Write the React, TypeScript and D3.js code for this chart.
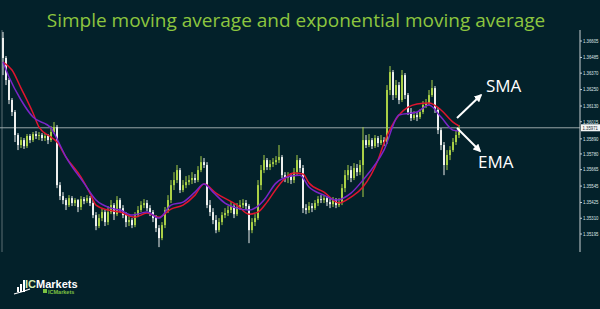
import React from "react";
import * as d3 from "d3";

const W = 600;
const H = 309;

const title = "Simple moving average and exponential moving average";
const tickLabels = ["1.36605", "1.36485", "1.36370", "1.36250", "1.36130", "1.36015", "1.35890", "1.35780", "1.35665", "1.35545", "1.35425", "1.35310", "1.35195"];
const currentPrice = 1.35971;
const currentLabel = "1.35971";

const firstOpen = 1.36627;
const closes = [
  1.36481, 1.3632, 1.36174, 1.36086, 1.35918, 1.35845, 1.35881, 1.35837, 1.35911, 1.35881,
  1.35925, 1.35911, 1.35918, 1.35896, 1.35911, 1.35881, 1.3594, 1.35976, 1.35552, 1.35472,
  1.35443, 1.35406, 1.35457, 1.35421, 1.35443, 1.35392, 1.3545, 1.35435, 1.35457, 1.35421,
  1.35333, 1.35253, 1.35311, 1.35355, 1.35282, 1.35355, 1.35406, 1.3534, 1.35443, 1.35384,
  1.35333, 1.35282, 1.35297, 1.3526, 1.35333, 1.3537, 1.35406, 1.35421, 1.35384, 1.35355,
  1.35311, 1.35238, 1.35165, 1.3526, 1.3537, 1.35443, 1.35552, 1.35589, 1.35662, 1.35516,
  1.35552, 1.35574, 1.35589, 1.35604, 1.35589, 1.35662, 1.3572, 1.35699, 1.35406, 1.35355,
  1.35297, 1.35223, 1.35282, 1.35333, 1.35348, 1.3537, 1.35399, 1.3534, 1.35392, 1.35406,
  1.35421, 1.35399, 1.35223, 1.35282, 1.35311, 1.35552, 1.35662, 1.35735, 1.35684, 1.35706,
  1.3572, 1.35735, 1.35757, 1.35625, 1.35604, 1.35618, 1.35589, 1.35647, 1.35735, 1.35677,
  1.35384, 1.3537, 1.35399, 1.35384, 1.35421, 1.3545, 1.35443, 1.35457, 1.35428, 1.35413,
  1.35443, 1.35406, 1.35428, 1.3553, 1.35625, 1.35662, 1.35604, 1.35677, 1.35647, 1.35699,
  1.35881, 1.35845, 1.35881, 1.35837, 1.35896, 1.35859, 1.35881, 1.35867, 1.36247, 1.36378,
  1.3621, 1.36283, 1.36174, 1.36356, 1.3621, 1.36086, 1.36042, 1.36064, 1.36049, 1.36086,
  1.36137, 1.36152, 1.3621, 1.36261, 1.36101, 1.35954, 1.35845, 1.35699, 1.35772, 1.35808,
  1.35867, 1.35918, 1.35969,
];
const highs = [
  1.36671, 1.36495, 1.36335, 1.36188, 1.36101, 1.35932, 1.35903, 1.35896, 1.35925, 1.35925,
  1.3594, 1.35947, 1.3594, 1.35932, 1.35932, 1.35925, 1.35984, 1.36013, 1.35991, 1.35574,
  1.35501, 1.35457, 1.35479, 1.35472, 1.35457, 1.3545, 1.35472, 1.35465, 1.35479, 1.35472,
  1.35443, 1.35355, 1.3534, 1.35384, 1.3537, 1.35399, 1.35443, 1.35421, 1.35472, 1.35457,
  1.35406, 1.35355, 1.35326, 1.35311, 1.35355, 1.35399, 1.35435, 1.3545, 1.35443, 1.35406,
  1.3537, 1.35333, 1.3526, 1.35282, 1.35392, 1.35479, 1.35589, 1.35647, 1.35699, 1.35677,
  1.35589, 1.35618, 1.35625, 1.35647, 1.35633, 1.35691, 1.35764, 1.3575, 1.3572, 1.35443,
  1.35384, 1.35333, 1.35311, 1.35355, 1.35384, 1.35399, 1.35428, 1.35413, 1.35421, 1.35443,
  1.3545, 1.35443, 1.35413, 1.35311, 1.3534, 1.35589, 1.35699, 1.35772, 1.3575, 1.35735,
  1.3575, 1.35764, 1.35845, 1.35772, 1.35647, 1.35647, 1.3564, 1.35677, 1.35772, 1.3575,
  1.35699, 1.35413, 1.35428, 1.35421, 1.35443, 1.35472, 1.35479, 1.35479, 1.35472, 1.3545,
  1.35465, 1.35457, 1.35457, 1.3556, 1.35662, 1.35699, 1.35691, 1.35713, 1.35706, 1.35735,
  1.35976, 1.35918, 1.35925, 1.35896, 1.35918, 1.35911, 1.35918, 1.35903, 1.36283, 1.36422,
  1.36393, 1.3632, 1.36305, 1.36393, 1.36371, 1.36225, 1.36115, 1.36093, 1.36086, 1.36108,
  1.36166, 1.36181, 1.36247, 1.3632, 1.36276, 1.36123, 1.35969, 1.35867, 1.35808, 1.35837,
  1.35896, 1.35954, 1.35991,
];
const lows = [
  1.36356, 1.36283, 1.36144, 1.36057, 1.35867, 1.35808, 1.35823, 1.35816, 1.35823, 1.35859,
  1.35867, 1.35889, 1.35881, 1.35874, 1.35874, 1.35852, 1.35867, 1.35925, 1.3553, 1.35443,
  1.35413, 1.3537, 1.35392, 1.35399, 1.35399, 1.35355, 1.3537, 1.35413, 1.35421, 1.35399,
  1.35311, 1.35223, 1.35238, 1.35289, 1.35253, 1.3526, 1.3534, 1.35297, 1.35326, 1.35355,
  1.35311, 1.35245, 1.35253, 1.35238, 1.35245, 1.35318, 1.35355, 1.35384, 1.35362, 1.35326,
  1.35282, 1.35209, 1.35099, 1.3515, 1.35238, 1.35348, 1.35421, 1.35516, 1.35567, 1.35494,
  1.35501, 1.3553, 1.35552, 1.3556, 1.35567, 1.35574, 1.35647, 1.35677, 1.35384, 1.35326,
  1.35267, 1.35201, 1.35209, 1.3526, 1.35311, 1.35326, 1.35348, 1.35311, 1.35326, 1.3537,
  1.35384, 1.3537, 1.35128, 1.35201, 1.35253, 1.35297, 1.35516, 1.3564, 1.35662, 1.35662,
  1.35684, 1.35699, 1.35713, 1.35604, 1.35574, 1.35567, 1.3556, 1.35567, 1.35625, 1.35647,
  1.35348, 1.3534, 1.35348, 1.35355, 1.3537, 1.35399, 1.35421, 1.35421, 1.35399, 1.35384,
  1.35392, 1.35384, 1.35392, 1.35406, 1.35501, 1.35589, 1.35574, 1.35589, 1.35618, 1.35625,
  1.35465, 1.35823, 1.3583, 1.35816, 1.35823, 1.3583, 1.35845, 1.35837, 1.35852, 1.3621,
  1.36174, 1.36188, 1.36144, 1.36159, 1.36181, 1.36064, 1.3602, 1.36028, 1.3602, 1.36035,
  1.36071, 1.36115, 1.36137, 1.36196, 1.36079, 1.35925, 1.35808, 1.35625, 1.35662, 1.35735,
  1.35794, 1.35845, 1.35896,
];

// moving averages: [candle index, value]
const smaIndex = [0, 3, 6, 10, 12, 16, 18, 21, 26, 29, 31, 35, 39, 44, 48, 52, 56, 60, 64, 67, 71, 78, 82, 85, 88, 92, 97, 100, 102, 107, 112, 116, 120, 125, 127, 132, 138, 142, 146, 150, 152];
const smaValues = [1.36451, 1.36393, 1.36261, 1.36079, 1.35976, 1.35903, 1.35867, 1.35757, 1.35611, 1.35494, 1.35406, 1.3537, 1.35355, 1.35318, 1.35348, 1.35318, 1.35377, 1.35406, 1.35479, 1.3556, 1.35494, 1.35406, 1.3534, 1.35355, 1.35428, 1.35552, 1.3564, 1.35633, 1.35567, 1.35501, 1.35421, 1.35465, 1.35538, 1.35735, 1.35859, 1.36064, 1.36144, 1.36152, 1.36101, 1.36013, 1.35984];
const emaIndex = [0, 2, 6, 10, 16, 17, 21, 27, 31, 36, 39, 43, 48, 52, 56, 60, 64, 67, 70, 74, 78, 82, 85, 87, 91, 96, 99, 102, 107, 111, 116, 120, 127, 132, 138, 142, 146, 150, 152];
const emaValues = [1.36451, 1.36342, 1.36174, 1.36049, 1.35969, 1.35932, 1.35757, 1.35567, 1.35443, 1.35384, 1.3537, 1.35333, 1.35355, 1.35311, 1.35406, 1.35428, 1.35501, 1.3556, 1.35501, 1.35421, 1.35384, 1.3537, 1.35399, 1.35443, 1.35567, 1.35618, 1.35625, 1.35538, 1.35479, 1.35443, 1.35494, 1.35589, 1.35808, 1.36064, 1.36086, 1.36137, 1.36049, 1.35954, 1.35947];

const BG = "#03212a";
const BULL = "#a9d046";
const BEAR = "#eef0ee";
const SMA_COLOR = "#e0152f";
const EMA_COLOR = "#7a25c9";

export default function App() {
  const opens = [firstOpen, ...closes.slice(0, -1)];
  const x = d3.scaleLinear().domain([0, closes.length - 1]).range([3, 459]);
  const y = d3.scaleLinear().domain([1.35195, 1.36605]).range([234, 41]);
  const bodyW = 2;

  const smaPts = smaIndex.map((i, k) => [i, smaValues[k]] as [number, number]);
  const emaPts = emaIndex.map((i, k) => [i, emaValues[k]] as [number, number]);
  const line = d3
    .line<[number, number]>()
    .x((d) => x(d[0]))
    .y((d) => y(d[1]))
    .curve(d3.curveMonotoneX);

  const axisX = 580;

  return (
    <svg
      width={W}
      height={H}
      style={{ position: "absolute", left: 0, top: 0, display: "block", background: BG }}
    >
      <rect x={0} y={0} width={W} height={H} fill={BG} />
      <text
        x={296}
        y={27}
        textAnchor="middle"
        fill="#8dc63f"
        fontFamily="'Open Sans', sans-serif"
        fontSize={19}
      >
        {title}
      </text>

      {/* left border line */}
      <line x1={2} x2={2} y1={30} y2={252} stroke="#5d6e72" strokeWidth={1} />

      {/* current price line */}
      <line x1={0} x2={axisX} y1={y(currentPrice)} y2={y(currentPrice)} stroke="#9aa6a9" strokeWidth={1} />

      {/* candles */}
      {closes.map((c, i) => {
        const o = opens[i];
        const bull = c >= o;
        const col = bull ? BULL : BEAR;
        const cx = x(i);
        const top = y(Math.max(o, c));
        const bot = y(Math.min(o, c));
        return (
          <g key={i}>
            <line x1={cx} x2={cx} y1={y(highs[i])} y2={y(lows[i])} stroke={col} strokeWidth={1} />
            <rect x={cx - bodyW / 2} y={top} width={bodyW} height={Math.max(1, bot - top)} fill={col} />
          </g>
        );
      })}

      {/* moving averages */}
      <path d={line(smaPts) || ""} fill="none" stroke={SMA_COLOR} strokeWidth={1.5} />
      <path d={line(emaPts) || ""} fill="none" stroke={EMA_COLOR} strokeWidth={1.5} />

      {/* right axis */}
      <line x1={axisX} x2={axisX} y1={30} y2={252} stroke="#c9d0d2" strokeWidth={1} />
      {tickLabels.map((t) => {
        const ty = y(+t);
        return (
          <g key={t}>
            <line x1={axisX} x2={axisX + 2} y1={ty} y2={ty} stroke="#c9d0d2" strokeWidth={1} />
            <text
              x={axisX + 3}
              y={ty + 1.8}
              fill="#dfe5e7"
              fontFamily="'Liberation Sans', Arial, sans-serif"
              fontSize={5}
              textLength={15.5}
              lengthAdjust="spacingAndGlyphs"
            >
              {t}
            </text>
          </g>
        );
      })}
      <rect x={axisX + 1} y={y(currentPrice) - 3.5} width={19} height={7} fill="#f4f6f6" />
      <text
        x={axisX + 2.5}
        y={y(currentPrice) + 1.8}
        fill="#1a2a30"
        fontFamily="'Liberation Sans', Arial, sans-serif"
        fontSize={5}
        textLength={15.5}
        lengthAdjust="spacingAndGlyphs"
      >
        {currentLabel}
      </text>

      {/* annotations */}
      <defs>
        <marker id="arrowhead" viewBox="0 0 10 10" refX="8" refY="5" markerWidth="4" markerHeight="4" orient="auto">
          <path d="M0,0 L10,5 L0,10 z" fill="#ffffff" />
        </marker>
      </defs>
      <line x1={457} y1={118} x2={481} y2={95} stroke="#ffffff" strokeWidth={2} markerEnd="url(#arrowhead)" />
      <line x1={457} y1={128} x2={480} y2={151} stroke="#ffffff" strokeWidth={2} markerEnd="url(#arrowhead)" />
      <text x={486} y={92} fill="#ffffff" fontFamily="'Open Sans', sans-serif" fontSize={17}>
        SMA
      </text>
      <text x={478} y={168} fill="#ffffff" fontFamily="'Open Sans', sans-serif" fontSize={17}>
        EMA
      </text>

      {/* logo */}
      <g>
        <rect x={17} y={287} width={2} height={5} fill="#ffffff" />
        <rect x={20} y={284} width={2} height={8} fill="#ffffff" />
        <rect x={23} y={280} width={2} height={12} fill="#ffffff" />
        <path d="M14,294 Q22,292 30,289" fill="none" stroke="#ffffff" strokeWidth={1.2} />
        <text x={25} y={288} fontFamily="'Liberation Sans', Arial, sans-serif" fontWeight="bold" fontSize={11}>
          <tspan fill="#d9ecb0">IC</tspan>
          <tspan fill="#ffffff">Markets</tspan>
        </text>
        <rect x={43} y={289} width={4} height={4} fill="#7cc242" />
        <text x={48} y={293.5} fill="#7cc242" fontFamily="'Liberation Sans', Arial, sans-serif" fontWeight="bold" fontSize={5.5}>
          ICMarkets
        </text>
      </g>
    </svg>
  );
}
